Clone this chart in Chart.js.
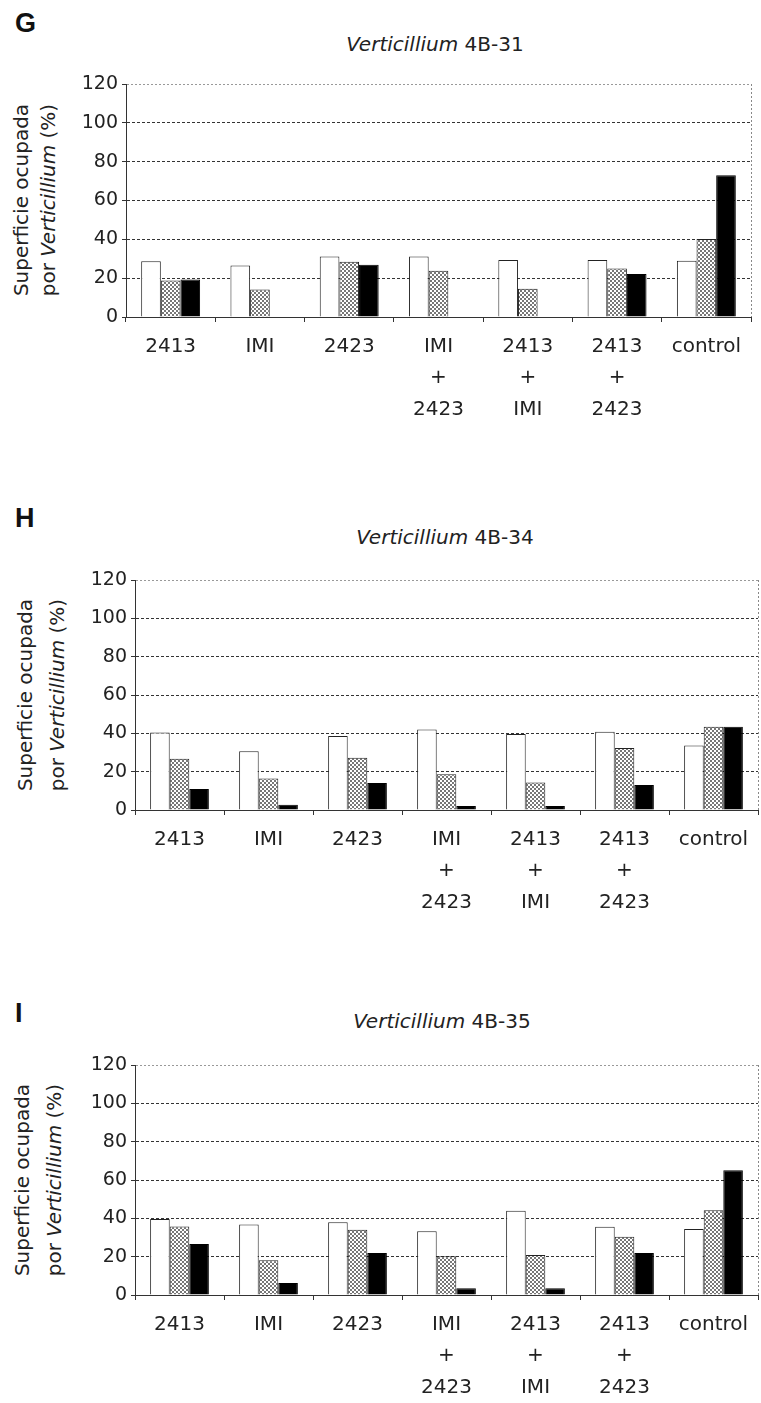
<!DOCTYPE html>
<html>
<head>
<meta charset="utf-8">
<script src="https://cdn.jsdelivr.net/npm/chart.js@4.4.1/dist/chart.umd.min.js"></script>
<style>
  html, body { margin: 0; padding: 0; background: #fff; }
  #page { position: relative; width: 761px; height: 1403px; background: #fff; color: #222; font-family: "DejaVu Sans", sans-serif; }
  .letter { position: absolute; left: 15px; font: bold 27px/30px "Liberation Sans", Arial, sans-serif; color: #111; }
  .title { position: absolute; width: 400px; margin-left: -200px; text-align: center; font-size: 20px; line-height: 24px; white-space: nowrap; }
  .ytitle { position: absolute; width: 300px; text-align: center; font-size: 20px; white-space: nowrap;
            transform: translate(-50%, -50%) rotate(-90deg); }
  .box { position: absolute; left: 0; width: 761px; }
</style>
</head>
<body>
<div id="page">
  <div class="letter" style="top:8px">G</div>
  <div class="title" style="left:435px;top:32px"><i>Verticillium</i> 4B-31</div>
  <div class="ytitle" style="left:35px;top:200px;line-height:27px">Superficie ocupada<br>por <i>Verticillium</i> (%)</div>
  <div class="box" id="boxG"><canvas id="chartG"></canvas></div>

  <div class="letter" style="top:503px">H</div>
  <div class="title" style="left:445px;top:525px"><i>Verticillium</i> 4B-34</div>
  <div class="ytitle" style="left:41px;top:695px;line-height:32px">Superficie ocupada<br>por <i>Verticillium</i> (%)</div>
  <div class="box" id="boxH"><canvas id="chartH"></canvas></div>

  <div class="letter" style="top:998px">I</div>
  <div class="title" style="left:442px;top:1009px"><i>Verticillium</i> 4B-35</div>
  <div class="ytitle" style="left:38px;top:1180px;line-height:32px">Superficie ocupada<br>por <i>Verticillium</i> (%)</div>
  <div class="box" id="boxI"><canvas id="chartI"></canvas></div>
</div>

<script>
// categories and axis ticks
const categories = ['2413', 'IMI', '2423', ['IMI', '+', '2423'], ['2413', '+', 'IMI'], ['2413', '+', '2423'], 'control'];
const yTicks = [0, 20, 40, 60, 80, 100, 120];
const seriesNames = ['serie 1', 'serie 2', 'serie 3'];

// G - Verticillium 4B-31
const gWhite  = [28.7, 26.5, 31.1, 31.1, 29.4, 29.4, 29.0];
const gDotted = [18.8, 14.2, 28.4, 23.8, 14.5, 25.0, 40.2];
const gBlack  = [19.3, 0, 26.9, 0, 0, 22.2, 73.0];

// H - Verticillium 4B-34
const hWhite  = [40.5, 30.7, 38.6, 42.0, 39.6, 40.8, 33.6];
const hDotted = [26.7, 16.4, 27.2, 18.6, 14.3, 32.4, 43.4];
const hBlack  = [10.9, 2.8, 14.1, 2.1, 2.1, 13.1, 43.4];

// I - Verticillium 4B-35
const iWhite  = [39.7, 36.8, 38.0, 33.3, 44.0, 35.6, 34.4];
const iDotted = [35.7, 18.1, 34.0, 20.2, 20.9, 30.4, 44.2];
const iBlack  = [26.6, 6.2, 21.9, 3.5, 3.5, 21.9, 65.1];

// stipple pattern for the middle bars
function makeDots() {
    const tile = document.createElement('canvas');
    tile.width = 4;
    tile.height = 4;
    const c = tile.getContext('2d');
    c.fillStyle = '#fff';
    c.fillRect(0, 0, 4, 4);
    c.fillStyle = '#777';
    c.fillRect(0, 0, 2, 2);
    c.fillRect(2, 2, 2, 2);
    return c.createPattern(tile, 'repeat');
}
const dots = makeDots();

// dotted right edge of the plot frame
const rightFrame = {
    id: 'rightFrame',
    afterDraw(chart) {
        const a = chart.chartArea;
        const ctx = chart.ctx;
        ctx.save();
        ctx.strokeStyle = '#888';
        ctx.lineWidth = 1;
        ctx.setLineDash([2, 2]);
        ctx.beginPath();
        ctx.moveTo(Math.round(a.right) + 0.5, a.top);
        ctx.lineTo(Math.round(a.right) + 0.5, a.bottom);
        ctx.stroke();
        ctx.restore();
    }
};

function drawPanel(id, white, dotted, black, plotLeft, plotRight, plotTop, plotBottom) {
    const padTop = 30, axisH = 130;
    const box = document.getElementById('box' + id);
    box.style.top = (plotTop - padTop) + 'px';
    box.style.height = (plotBottom - plotTop + padTop + axisH) + 'px';

    new Chart(document.getElementById('chart' + id), {
        type: 'bar',
        data: {
            labels: categories,
            datasets: [
                { label: seriesNames[0], data: white,  backgroundColor: '#fff', borderColor: '#222', borderWidth: 1 },
                { label: seriesNames[1], data: dotted, backgroundColor: dots,   borderColor: '#222', borderWidth: 1 },
                { label: seriesNames[2], data: black,  backgroundColor: '#000', borderColor: '#000', borderWidth: 1 }
            ]
        },
        options: {
            responsive: true,
            maintainAspectRatio: false,
            animation: false,
            datasets: { bar: { categoryPercentage: 0.66, barPercentage: 1.0 } },
            layout: { padding: { top: padTop, right: 761 - plotRight, left: 0, bottom: 0 } },
            plugins: { legend: { display: false }, tooltip: { enabled: false } },
            scales: {
                x: {
                    afterFit(scale) { scale.height = axisH; },
                    grid: { display: true, drawOnChartArea: false, color: '#333', tickLength: 5 },
                    border: { color: '#333', width: 1 },
                    ticks: {
                        color: '#222',
                        padding: 9,
                        maxRotation: 0,
                        autoSkip: false,
                        font: { family: 'DejaVu Sans', size: 20, lineHeight: 1.575 }
                    }
                },
                y: {
                    min: 0,
                    max: 120,
                    afterFit(scale) { scale.width = plotLeft; },
                    afterBuildTicks(scale) { scale.ticks = yTicks.map(v => ({ value: v })); },
                    grid: {
                        color: (c) => (c.tick && c.tick.value === 120) ? '#999' : '#333',
                        lineWidth: 1,
                        tickLength: 4,
                        tickColor: '#333'
                    },
                    border: {
                        color: '#333',
                        width: 1,
                        dash: (c) => (c.tick && c.tick.value === 120) ? [2, 2] : [3, 2]
                    },
                    ticks: {
                        color: '#222',
                        padding: 4,
                        font: { family: 'DejaVu Sans', size: 19 }
                    }
                }
            }
        },
        plugins: [rightFrame]
    });
}

drawPanel('G', gWhite, gDotted, gBlack, 126, 751, 84, 317);
drawPanel('H', hWhite, hDotted, hBlack, 135, 758, 580, 810);
drawPanel('I', iWhite, iDotted, iBlack, 135, 758, 1065, 1295);
</script>
</body>
</html>
